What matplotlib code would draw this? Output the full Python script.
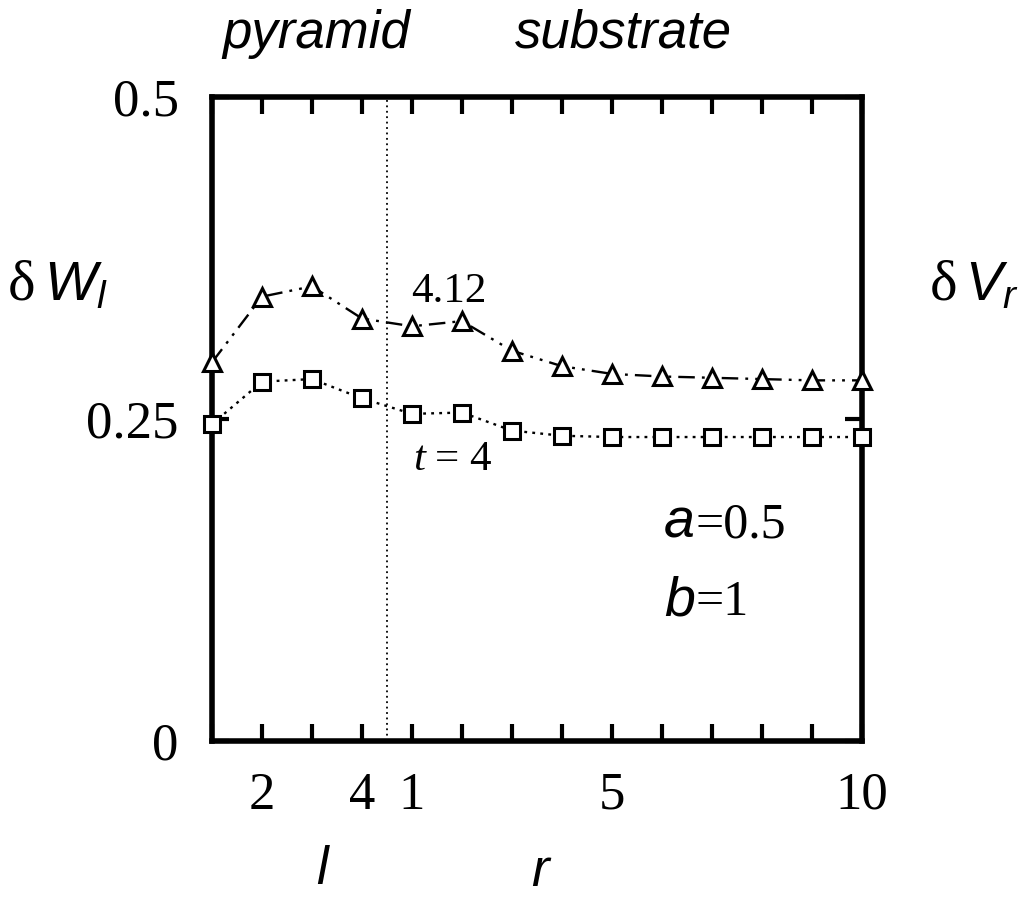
import matplotlib
matplotlib.use("Agg")
import matplotlib.pyplot as plt

plt.rcParams["mathtext.fontset"] = "custom"
plt.rcParams["mathtext.it"] = "Liberation Sans:italic"
plt.rcParams["mathtext.rm"] = "Liberation Sans"

# Data: first 4 points are pyramid levels l=1..4, next 10 substrate r=1..10
l_vals = [1, 2, 3, 4]
r_vals = [1, 2, 3, 4, 5, 6, 7, 8, 9, 10]
t412_vals = [0.294, 0.345, 0.353, 0.328, 0.322, 0.326, 0.303, 0.291, 0.285, 0.283, 0.282, 0.281, 0.280, 0.280]
t4_vals = [0.246, 0.279, 0.281, 0.266, 0.254, 0.255, 0.241, 0.237, 0.236, 0.236, 0.236, 0.236, 0.236, 0.236]
xtick_labels = ["", "2", "", "4", "1", "", "", "", "5", "", "", "", "", "10"]
ytick_vals = [0, 0.25, 0.5]
ytick_labels = ["0", "0.25", "0.5"]

x = list(range(len(l_vals) + len(r_vals)))

W, H = 1028, 899
fig = plt.figure(figsize=(W / 100, H / 100), dpi=100)
ax = fig.add_axes([212 / W, 1 - 741 / H, 650 / W, 644 / H])

serif = "Liberation Serif"
sans = "Liberation Sans"

ax.plot(x, t412_vals, color="black", lw=1.7, linestyle=(0, (7, 3, 1.2, 3, 1.2, 3)),
        marker="^", ms=13, mfc="white", mec="black", mew=2.2, clip_on=False, zorder=3)
ax.plot(x, t4_vals, color="black", lw=1.7, linestyle=(0, (1.2, 2.2)),
        marker="s", ms=12, mfc="white", mec="black", mew=2.2, clip_on=False, zorder=3)

ax.axvline(3.5, color="black", lw=1.3, linestyle=(0, (1, 2)), zorder=1)

ax.set_xlim(0, len(x) - 1)
ax.set_ylim(0, 0.5)
for s in ax.spines.values():
    s.set_linewidth(4)

ax.set_xticks(x)
ax.set_xticklabels(xtick_labels, fontfamily=serif, fontsize=38)
ax.tick_params(axis="x", direction="in", length=12, width=3, pad=22, top=True)
ax.set_yticks(ytick_vals)
ax.set_yticklabels(ytick_labels, fontfamily=serif, fontsize=38)
ax.tick_params(axis="y", direction="in", length=12, width=3, pad=24, right=True)


def ft(px, py, s, **kw):
    fig.text(px / W, 1 - py / H, s, **kw)


ft(222, 48, "pyramid", fontfamily=sans, style="italic", fontsize=38, ha="left", va="baseline")
ft(515, 48, "substrate", fontfamily=sans, style="italic", fontsize=38, ha="left", va="baseline")

ft(8, 300, "δ", fontfamily=serif, fontsize=42, ha="left", va="baseline")
ft(44, 300, r"$\mathit{W}_{\mathit{l}}$", fontsize=40, ha="left", va="baseline")
ft(930, 300, "δ", fontfamily=serif, fontsize=42, ha="left", va="baseline")
ft(965, 300, r"$\mathit{V}_{\mathit{r}}$", fontsize=40, ha="left", va="baseline")

ft(322, 884, "l", fontfamily=sans, style="italic", fontsize=38, ha="center", va="baseline")
ft(540, 886, "r", fontfamily=sans, style="italic", fontsize=38, ha="center", va="baseline")

ft(411, 302, "4.12", fontfamily=serif, fontsize=31, ha="left", va="baseline")
ft(413, 470, "t", fontfamily=serif, style="italic", fontsize=31, ha="left", va="baseline")
ft(435, 470, "= 4", fontfamily=serif, fontsize=31, ha="left", va="baseline")

ft(664, 538, "a", fontfamily=sans, style="italic", fontsize=40, ha="left", va="baseline")
ft(695, 538, "=0.5", fontfamily=serif, fontsize=36, ha="left", va="baseline")
ft(664, 615, "b", fontfamily=sans, style="italic", fontsize=40, ha="left", va="baseline")
ft(695, 615, "=1", fontfamily=serif, fontsize=36, ha="left", va="baseline")

fig.savefig("out.png", dpi=100)
